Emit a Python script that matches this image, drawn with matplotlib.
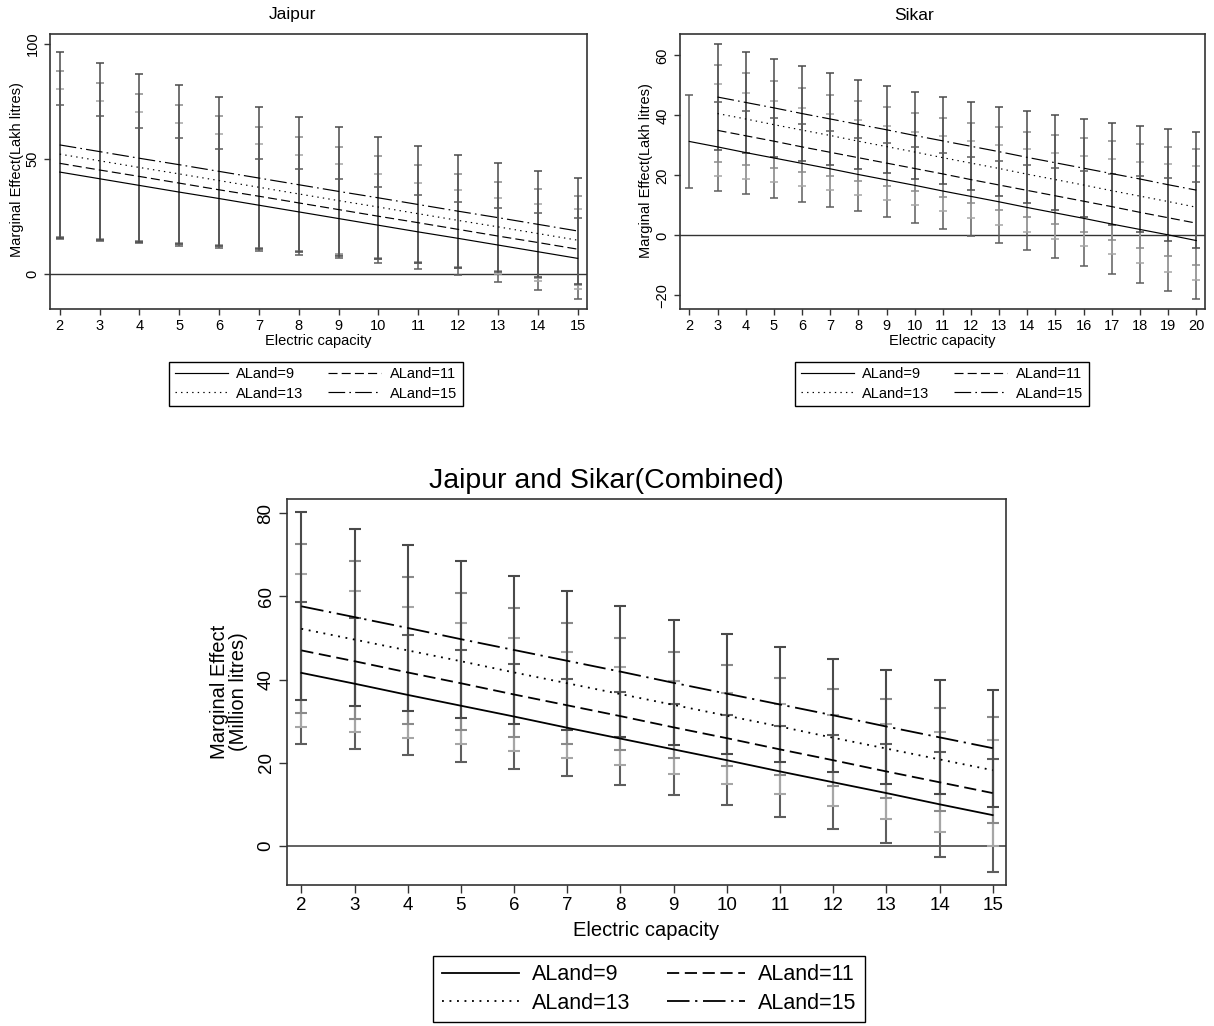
import numpy as np
import matplotlib
matplotlib.use('Agg')
import matplotlib.pyplot as plt
from matplotlib.lines import Line2D

plt.rcParams['font.family'] = ['Liberation Sans', 'DejaVu Sans']
plt.rcParams['lines.scale_dashes'] = False

W, H = 1214, 1026

labels = ['ALand=9', 'ALand=11', 'ALand=13', 'ALand=15']

# ---------------- Jaipur ----------------
jaipur_x = [2, 3, 4, 5, 6, 7, 8, 9, 10, 11, 12, 13, 14, 15]
jaipur_mean_9 = [44.3, 41.4, 38.5, 35.6, 32.8, 29.9, 27.0, 24.1, 21.2, 18.3, 15.5, 12.6, 9.7, 6.8]
jaipur_mean_11 = [48.1, 45.2, 42.4, 39.5, 36.6, 33.8, 30.9, 28.0, 25.1, 22.3, 19.4, 16.5, 13.7, 10.8]
jaipur_mean_13 = [52.1, 49.2, 46.3, 43.5, 40.6, 37.7, 34.8, 31.9, 29.1, 26.2, 23.3, 20.5, 17.6, 14.7]
jaipur_mean_15 = [56.1, 53.2, 50.3, 47.5, 44.6, 41.7, 38.8, 35.9, 33.1, 30.2, 27.3, 24.5, 21.6, 18.7]
jaipur_upper_9 = [73.5, 68.5, 63.6, 59.0, 54.2, 49.8, 45.6, 41.4, 37.7, 34.4, 31.4, 28.6, 26.5, 24.5]
jaipur_lower_9 = [15.1, 14.3, 13.4, 12.2, 11.4, 10.0, 8.4, 6.8, 4.7, 2.2, -0.4, -3.4, -7.1, -10.9]
jaipur_upper_11 = [80.3, 75.4, 70.5, 65.8, 61.0, 56.3, 51.8, 47.6, 43.5, 39.7, 36.3, 33.1, 30.5, 28.2]
jaipur_lower_11 = [15.9, 15.0, 14.3, 13.2, 12.2, 11.3, 10.0, 8.4, 6.7, 4.9, 2.5, -0.1, -3.1, -6.6]
jaipur_upper_13 = [88.1, 83.2, 78.3, 73.5, 68.8, 64.0, 59.6, 55.3, 51.1, 47.2, 43.5, 39.9, 36.8, 34.0]
jaipur_lower_13 = [16.1, 15.2, 14.3, 13.5, 12.4, 11.4, 10.0, 8.5, 7.1, 5.2, 3.1, 1.1, -1.6, -4.6]
jaipur_upper_15 = [96.4, 91.7, 86.9, 82.0, 77.1, 72.5, 68.2, 63.9, 59.6, 55.5, 51.8, 48.1, 44.7, 41.6]
jaipur_lower_15 = [15.8, 14.7, 13.7, 13.0, 12.1, 10.9, 9.4, 7.9, 6.6, 4.9, 2.8, 0.9, -1.5, -4.2]
jaipur_yticks = [0, 50, 100]

# ---------------- Sikar ----------------
sikar_x_9 = [2, 3, 4, 5, 6, 7, 8, 9, 10, 11, 12, 13, 14, 15, 16, 17, 18, 19, 20]
sikar_x = [3, 4, 5, 6, 7, 8, 9, 10, 11, 12, 13, 14, 15, 16, 17, 18, 19, 20]
sikar_mean_9 = [31.3, 29.5, 27.6, 25.8, 24.0, 22.2, 20.3, 18.5, 16.7, 14.8, 13.0, 11.2, 9.3, 7.5, 5.7, 3.8, 2.0, 0.2, -1.7]
sikar_upper_9 = [46.8, 44.3, 41.4, 39.1, 37.0, 34.8, 32.6, 30.9, 29.3, 27.5, 26.2, 24.9, 23.6, 22.5, 21.6, 20.5, 19.7, 19.0, 17.9]
sikar_lower_9 = [15.8, 14.7, 13.8, 12.5, 11.0, 9.6, 8.0, 6.1, 4.1, 2.1, -0.2, -2.5, -5.0, -7.5, -10.2, -12.9, -15.7, -18.6, -21.3]
sikar_mean_11 = [35.0, 33.2, 31.4, 29.5, 27.7, 25.9, 24.1, 22.3, 20.5, 18.6, 16.8, 15.0, 13.2, 11.4, 9.6, 7.7, 5.9, 4.1]
sikar_upper_11 = [50.3, 47.5, 44.9, 42.5, 40.3, 38.3, 36.4, 34.6, 33.0, 31.4, 30.0, 28.7, 27.5, 26.4, 25.5, 24.6, 23.9, 23.2]
sikar_lower_11 = [19.7, 18.9, 17.9, 16.5, 15.1, 13.5, 11.8, 10.0, 8.0, 5.8, 3.6, 1.3, -1.1, -3.6, -6.3, -9.2, -12.1, -15.0]
sikar_mean_13 = [40.6, 38.8, 36.9, 35.1, 33.3, 31.4, 29.6, 27.8, 25.9, 24.1, 22.3, 20.4, 18.6, 16.8, 14.9, 13.1, 11.3, 9.4]
sikar_upper_13 = [56.9, 54.1, 51.4, 49.1, 46.9, 44.7, 42.7, 40.9, 39.1, 37.5, 36.0, 34.5, 33.4, 32.4, 31.3, 30.4, 29.6, 28.7]
sikar_lower_13 = [24.3, 23.5, 22.4, 21.1, 19.7, 18.1, 16.5, 14.7, 12.7, 10.7, 8.6, 6.3, 3.8, 1.2, -1.5, -4.2, -7.0, -9.9]
sikar_mean_15 = [46.1, 44.3, 42.5, 40.6, 38.8, 37.0, 35.2, 33.3, 31.5, 29.7, 27.9, 26.0, 24.2, 22.4, 20.6, 18.8, 16.9, 15.1]
sikar_upper_15 = [63.8, 61.2, 58.8, 56.4, 54.0, 51.8, 49.7, 47.8, 46.0, 44.3, 42.8, 41.3, 40.0, 38.7, 37.6, 36.6, 35.6, 34.5]
sikar_lower_15 = [28.4, 27.4, 26.2, 24.8, 23.6, 22.2, 20.7, 18.8, 17.0, 15.1, 13.0, 10.7, 8.4, 6.1, 3.6, 1.0, -1.8, -4.3]
sikar_yticks = [-20, 0, 20, 40, 60]

# ---------------- Combined ----------------
comb_x = [2, 3, 4, 5, 6, 7, 8, 9, 10, 11, 12, 13, 14, 15]
comb_mean_9 = [41.6, 39.0, 36.3, 33.7, 31.1, 28.4, 25.8, 23.2, 20.6, 17.9, 15.3, 12.7, 10.0, 7.4]
comb_upper_9 = [58.6, 54.7, 50.8, 47.2, 43.7, 40.1, 37.0, 34.1, 31.4, 28.8, 26.6, 24.6, 22.6, 21.0]
comb_lower_9 = [24.6, 23.3, 21.8, 20.2, 18.5, 16.7, 14.6, 12.3, 9.8, 7.0, 4.0, 0.8, -2.6, -6.2]
comb_mean_11 = [47.0, 44.4, 41.7, 39.1, 36.4, 33.8, 31.2, 28.5, 25.9, 23.2, 20.6, 17.9, 15.3, 12.7]
comb_upper_11 = [65.3, 61.4, 57.5, 53.7, 50.0, 46.5, 43.0, 39.7, 36.8, 34.0, 31.5, 29.3, 27.3, 25.5]
comb_lower_11 = [28.7, 27.4, 25.9, 24.5, 22.8, 21.1, 19.4, 17.3, 15.0, 12.4, 9.7, 6.5, 3.3, -0.1]
comb_mean_13 = [52.2, 49.6, 47.0, 44.4, 41.7, 39.1, 36.5, 33.9, 31.3, 28.7, 26.0, 23.4, 20.8, 18.2]
comb_upper_13 = [72.5, 68.6, 64.7, 60.9, 57.1, 53.6, 50.0, 46.6, 43.4, 40.4, 37.7, 35.3, 33.1, 31.0]
comb_lower_13 = [31.9, 30.6, 29.3, 27.9, 26.3, 24.6, 23.0, 21.2, 19.2, 17.0, 14.3, 11.5, 8.5, 5.4]
comb_mean_15 = [57.6, 55.0, 52.4, 49.7, 47.1, 44.5, 41.9, 39.2, 36.6, 34.0, 31.4, 28.7, 26.1, 23.5]
comb_upper_15 = [80.2, 76.3, 72.4, 68.6, 64.9, 61.2, 57.6, 54.2, 51.0, 47.9, 45.0, 42.4, 39.8, 37.6]
comb_lower_15 = [35.0, 33.7, 32.4, 30.8, 29.3, 27.8, 26.2, 24.2, 22.2, 20.1, 17.8, 15.0, 12.4, 9.4]
comb_yticks = [0, 20, 40, 60, 80]

# ---------------- styling ----------------
ci_colors = ['#5e5e5e', '#a6a6a6', '#8a8a8a', '#4a4a4a']


def styles(scale):
    return [
        '-',
        (0, (6.5 * scale, 3.0 * scale)),
        (0, (1.0 * scale, 3.0 * scale)),
        (0, (12.0 * scale, 3.0 * scale, 1.2 * scale, 3.0 * scale)),
    ]


fig = plt.figure(figsize=(W / 100, H / 100), dpi=100)


def add_ax(l, t, r, b):
    return fig.add_axes([l / W, 1 - b / H, (r - l) / W, (b - t) / H])


def draw_panel(ax, xs, means, lowers, uppers, xlim, ylim, yticks, xticks,
               big=False):
    sc = 1.35 if big else 1.0
    elw = 1.5 if big else 1.1
    cap = 4.3 if big else 2.9
    lw = 1.3 if big else 0.85
    ax.axhline(0, color='#555555' if big else '#333333', lw=1.3 if big else 1.0, zorder=1)
    for i in range(4):
        m = np.array(means[i])
        lo = np.array(lowers[i])
        up = np.array(uppers[i])
        ax.errorbar(xs[i], m, yerr=[m - lo, up - m], fmt='none',
                    ecolor=ci_colors[i], elinewidth=elw, capsize=cap,
                    capthick=elw, zorder=2 + i)
    st = styles(sc)
    for i in range(4):
        ax.plot(xs[i], means[i], color='black', lw=lw, linestyle=st[i], zorder=10)
    ax.set_xlim(*xlim)
    ax.set_ylim(*ylim)
    ax.set_xticks(xticks)
    ax.set_yticks(yticks)
    fs = 13.5 if big else 10.5
    ax.tick_params(axis='both', direction='out', length=6 if big else 4.5,
                   width=1.0, labelsize=fs, color='#333333', pad=3)
    ax.tick_params(axis='y', labelrotation=90)
    for lab in ax.get_yticklabels():
        lab.set_va('center')
    for s in ax.spines.values():
        s.set_color('#333333')
        s.set_linewidth(1.2)
    return st


def add_legend(ax, st, cx, cy, big=False):
    lw = 1.3 if big else 0.85
    hs = [Line2D([], [], color='black', lw=lw, linestyle=st[i]) for i in range(4)]
    order = [0, 2, 1, 3]
    fs = 15.5 if big else 10.5
    leg = ax.legend([hs[i] for i in order], [labels[i] for i in order], ncol=2,
                    loc='center', bbox_to_anchor=(cx / W, 1 - cy / H),
                    bbox_transform=fig.transFigure, fontsize=fs,
                    frameon=True, fancybox=False, edgecolor='black',
                    framealpha=1, handlelength=3.6,
                    handletextpad=0.6, columnspacing=1.7,
                    borderpad=0.4, labelspacing=0.35,
                    borderaxespad=0)
    leg.get_frame().set_linewidth(1.0)


# Jaipur
axJ = add_ax(50, 34, 587, 309)
stJ = draw_panel(axJ, [jaipur_x] * 4,
                 [jaipur_mean_9, jaipur_mean_11, jaipur_mean_13, jaipur_mean_15],
                 [jaipur_lower_9, jaipur_lower_11, jaipur_lower_13, jaipur_lower_15],
                 [jaipur_upper_9, jaipur_upper_11, jaipur_upper_13, jaipur_upper_15],
                 (1.755, 15.235), (-15.2, 104.3), jaipur_yticks, jaipur_x)
add_legend(axJ, stJ, 316, 384)
fig.text(292 / W, 1 - 15 / H, 'Jaipur', ha='center', va='center', fontsize=12.5)
fig.text(318 / W, 1 - 341 / H, 'Electric capacity', ha='center', va='center', fontsize=10.5)
fig.text(17 / W, 1 - 170 / H, 'Marginal Effect(Lakh litres)', ha='center', va='center',
         fontsize=10.5, rotation=90)

# Sikar
axS = add_ax(680, 34, 1205, 309)
stS = draw_panel(axS, [sikar_x_9, sikar_x, sikar_x, sikar_x],
                 [sikar_mean_9, sikar_mean_11, sikar_mean_13, sikar_mean_15],
                 [sikar_lower_9, sikar_lower_11, sikar_lower_13, sikar_lower_15],
                 [sikar_upper_9, sikar_upper_11, sikar_upper_13, sikar_upper_15],
                 (1.667, 20.31), (-24.5, 67.1), sikar_yticks, sikar_x_9)
add_legend(axS, stS, 942, 384)
fig.text(914 / W, 1 - 15 / H, 'Sikar', ha='center', va='center', fontsize=12.5)
fig.text(942 / W, 1 - 341 / H, 'Electric capacity', ha='center', va='center', fontsize=10.5)
fig.text(646 / W, 1 - 171 / H, 'Marginal Effect(Lakh litres)', ha='center', va='center',
         fontsize=10.5, rotation=90)

# Combined
axC = add_ax(287, 499, 1006, 885)
stC = draw_panel(axC, [comb_x] * 4,
                 [comb_mean_9, comb_mean_11, comb_mean_13, comb_mean_15],
                 [comb_lower_9, comb_lower_11, comb_lower_13, comb_lower_15],
                 [comb_upper_9, comb_upper_11, comb_upper_13, comb_upper_15],
                 (1.73, 15.25), (-9.4, 83.4), comb_yticks, comb_x, big=True)
add_legend(axC, stC, 649, 989, big=True)
fig.text(606 / W, 1 - 481 / H, 'Jaipur and Sikar(Combined)', ha='center', va='center',
         fontsize=20.5)
fig.text(646 / W, 1 - 930 / H, 'Electric capacity', ha='center', va='center', fontsize=14.5)
fig.text(229 / W, 1 - 692 / H, 'Marginal Effect\n(Million litres)', ha='center',
         va='center', fontsize=14.5, rotation=90, linespacing=0.95)

fig.savefig('out.png', dpi=100)
